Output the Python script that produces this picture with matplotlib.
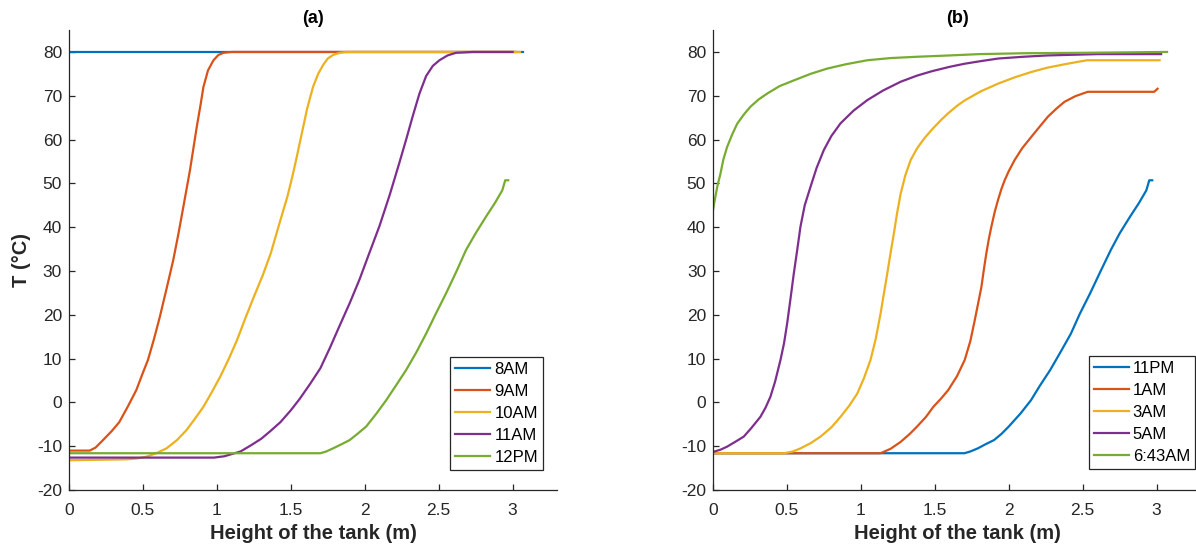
import matplotlib.pyplot as plt

plt.rcParams["font.family"] = ["Liberation Sans", "DejaVu Sans"]
plt.rcParams["axes.unicode_minus"] = False

# MATLAB default line colours
COLORS = ["#0072BD", "#D95319", "#EDB120", "#7E2F8E", "#77AC30"]
AXIS_COLOR = "#262626"

# ---- panel (a): morning charging ----
labels_a = ["8AM", "9AM", "10AM", "11AM", "12PM"]

x_8am = [0.0, 1.0, 2.0, 3.07]
t_8am = [80.0, 80.0, 80.0, 80.0]

x_9am = [0.0, 0.14, 0.18, 0.23, 0.29, 0.34, 0.40, 0.455, 0.50, 0.534, 0.575,
         0.614, 0.66, 0.705, 0.74, 0.773, 0.818, 0.864, 0.89, 0.909, 0.94,
         0.977, 1.01, 1.045, 1.10, 2.0, 3.02]
t_9am = [-11.0, -11.0, -10.3, -8.6, -6.5, -4.5, -0.8, 2.8, 6.8, 9.7, 14.5,
         19.5, 26.0, 32.5, 38.5, 44.6, 53.0, 62.9, 68.0, 72.0, 75.8,
         78.1, 79.3, 79.8, 80.0, 80.0, 80.0]

x_10am = [0.0, 0.20, 0.386, 0.46, 0.523, 0.59, 0.659, 0.73, 0.795, 0.85,
          0.909, 0.965, 1.023, 1.08, 1.136, 1.19, 1.25, 1.31, 1.364, 1.42,
          1.477, 1.51, 1.54, 1.575, 1.61, 1.65, 1.685, 1.718, 1.75, 1.785,
          1.83, 1.875, 2.5, 3.05]
t_10am = [-13.2, -13.1, -13.0, -12.8, -12.4, -11.6, -10.5, -8.6, -6.3, -3.8,
          -1.0, 2.3, 5.9, 9.9, 14.2, 19.0, 24.1, 29.0, 34.0, 40.5,
          47.0, 51.5, 56.0, 61.5, 67.0, 72.0, 75.0, 77.0, 78.5, 79.3,
          79.8, 80.0, 80.0, 80.0]

x_11am = [0.0, 0.98, 1.05, 1.11, 1.16, 1.23, 1.30, 1.36, 1.43, 1.50, 1.56,
          1.63, 1.70, 1.765, 1.83, 1.90, 1.965, 2.03, 2.10, 2.17, 2.235,
          2.28, 2.325, 2.37, 2.415, 2.46, 2.505, 2.56, 2.617, 2.73, 3.0]
t_11am = [-12.6, -12.6, -12.3, -11.7, -11.2, -9.8, -8.3, -6.6, -4.5, -1.8, 0.8,
          4.2, 7.8, 12.5, 17.5, 22.8, 28.1, 34.0, 40.3, 47.5, 54.8,
          60.0, 65.4, 70.5, 74.5, 76.8, 78.1, 79.2, 79.8, 80.0, 80.0]

x_12pm = [0.0, 1.70, 1.74, 1.785, 1.84, 1.898, 1.95, 2.01, 2.08, 2.145, 2.21,
          2.28, 2.35, 2.415, 2.48, 2.55, 2.62, 2.685, 2.75, 2.82, 2.88,
          2.93, 2.95, 2.97]
t_12pm = [-11.6, -11.6, -11.2, -10.5, -9.6, -8.6, -7.2, -5.5, -2.5, 0.5, 3.8,
          7.4, 11.5, 15.7, 20.2, 24.9, 29.9, 34.8, 38.6, 42.4, 45.5,
          48.4, 50.7, 50.7]

# ---- panel (b): night discharging ----
labels_b = ["11PM", "1AM", "3AM", "5AM", "6:43AM"]

x_11pm = [0.0, 1.70, 1.74, 1.79, 1.84, 1.90, 1.95, 2.00, 2.08, 2.15, 2.21,
          2.28, 2.35, 2.42, 2.48, 2.55, 2.62, 2.69, 2.75, 2.82, 2.88,
          2.93, 2.95, 2.97]
t_11pm = [-11.6, -11.6, -11.2, -10.5, -9.6, -8.6, -7.2, -5.5, -2.5, 0.5, 3.8,
          7.4, 11.5, 15.7, 20.2, 24.9, 29.9, 34.8, 38.6, 42.4, 45.5,
          48.4, 50.7, 50.7]

x_1am = [0.0, 1.133, 1.20, 1.269, 1.33, 1.38, 1.44, 1.49, 1.54, 1.59, 1.65,
         1.702, 1.74, 1.77, 1.795, 1.815, 1.83, 1.848, 1.865, 1.882, 1.905,
         1.927, 1.95, 1.972, 2.0, 2.039, 2.09, 2.152, 2.21, 2.264, 2.32,
         2.376, 2.45, 2.534, 2.983, 3.006]
t_1am = [-11.6, -11.6, -10.6, -9.0, -7.2, -5.5, -3.3, -1.0, 0.8, 2.8, 6.0,
         9.7, 14.0, 18.8, 23.0, 26.4, 30.0, 34.0, 37.3, 40.1, 43.5,
         46.2, 48.7, 50.7, 52.8, 55.3, 58.0, 60.6, 63.0, 65.2, 67.0,
         68.6, 69.9, 70.9, 70.9, 71.6]

x_3am = [0.0, 0.48, 0.54, 0.591, 0.66, 0.727, 0.80, 0.862, 0.92, 0.975, 1.02,
         1.065, 1.10, 1.133, 1.156, 1.178, 1.20, 1.223, 1.245, 1.269, 1.30,
         1.336, 1.38, 1.427, 1.478, 1.54, 1.59, 1.65, 1.70, 1.81, 1.93,
         2.04, 2.15, 2.26, 2.38, 2.46, 2.53, 3.02]
t_3am = [-11.6, -11.6, -11.2, -10.5, -9.3, -7.8, -5.7, -3.3, -0.8, 2.0, 5.5,
         9.7, 14.5, 20.3, 25.0, 29.4, 34.0, 38.6, 43.3, 47.7, 51.8,
         55.3, 58.0, 60.2, 62.2, 64.4, 66.0, 67.7, 68.9, 71.0, 72.8,
         74.2, 75.4, 76.4, 77.2, 77.7, 78.1, 78.1]

x_5am = [0.0, 0.05, 0.095, 0.15, 0.208, 0.26, 0.32, 0.355, 0.388, 0.42, 0.456,
         0.48, 0.501, 0.525, 0.546, 0.57, 0.591, 0.62, 0.659, 0.70, 0.749,
         0.80, 0.862, 0.95, 1.043, 1.15, 1.269, 1.38, 1.48, 1.60, 1.70,
         1.81, 1.93, 2.10, 2.26, 2.60, 3.03]
t_5am = [-11.3, -10.8, -10.1, -9.0, -7.8, -5.8, -3.3, -1.2, 1.3, 4.8, 9.7,
         13.5, 18.0, 24.0, 29.4, 35.0, 40.1, 45.0, 49.2, 53.5, 57.6,
         60.8, 63.7, 66.6, 69.0, 71.2, 73.2, 74.6, 75.6, 76.6, 77.3,
         77.9, 78.5, 78.9, 79.2, 79.5, 79.5]

x_643am = [0.0, 0.008, 0.016, 0.03, 0.05, 0.07, 0.095, 0.13, 0.163, 0.21,
           0.253, 0.31, 0.366, 0.45, 0.546, 0.66, 0.772, 0.90, 1.043, 1.20,
           1.38, 1.60, 1.80, 2.10, 2.50, 3.07]
t_643am = [43.9, 45.5, 47.0, 49.5, 52.2, 55.5, 58.3, 61.2, 63.6, 65.8,
           67.5, 69.2, 70.5, 72.2, 73.5, 75.0, 76.2, 77.2, 78.1, 78.6,
           78.9, 79.2, 79.5, 79.7, 79.8, 80.0]

series_a = [(x_8am, t_8am), (x_9am, t_9am), (x_10am, t_10am),
            (x_11am, t_11am), (x_12pm, t_12pm)]
series_b = [(x_11pm, t_11pm), (x_1am, t_1am), (x_3am, t_3am),
            (x_5am, t_5am), (x_643am, t_643am)]

FIG_W, FIG_H = 1196, 548


def style_axes(ax, title):
    ax.set_xlim(0, 3.3)
    ax.set_ylim(-20, 85)
    ax.set_xticks([0, 0.5, 1, 1.5, 2, 2.5, 3])
    ax.set_xticklabels(["0", "0.5", "1", "1.5", "2", "2.5", "3"])
    ax.set_yticks(range(-20, 81, 10))
    for side in ("top", "right"):
        ax.spines[side].set_visible(False)
    for side in ("left", "bottom"):
        ax.spines[side].set_color(AXIS_COLOR)
        ax.spines[side].set_linewidth(0.9)
    ax.tick_params(direction="in", length=4, width=0.9, colors=AXIS_COLOR,
                   labelsize=12.5)
    ax.tick_params(axis="x", pad=9)
    ax.tick_params(axis="y", pad=5)
    ax.set_title(title, fontsize=13, fontweight="bold", pad=5)
    ax.set_xlabel("Height of the tank (m)", fontsize=14.5, fontweight="bold",
                  labelpad=5, color=AXIS_COLOR)


def draw(ax, series, labels, legend_corner):
    for (xs, ts), label, color in zip(series, labels, COLORS):
        ax.plot(xs, ts, color=color, lw=1.6, label=label)
    # legend placed by its lower-right corner, in pixels of the figure
    anchor = (legend_corner[0] / FIG_W, 1 - legend_corner[1] / FIG_H)
    leg = ax.legend(loc="lower right", bbox_to_anchor=anchor,
                    bbox_transform=ax.figure.transFigure,
                    fontsize=12, handlelength=2.1, handletextpad=0.25,
                    borderpad=0.3, labelspacing=0.42, borderaxespad=0.0,
                    fancybox=False, framealpha=1)
    leg.get_frame().set_edgecolor(AXIS_COLOR)
    leg.get_frame().set_linewidth(0.9)


fig = plt.figure(figsize=(11.96, 5.48), dpi=100)
ax_a = fig.add_axes([0.0577, 0.1058, 0.408, 0.8394])
ax_b = fig.add_axes([0.5962, 0.1058, 0.408, 0.8394])

draw(ax_a, series_a, labels_a, (543, 470))
style_axes(ax_a, "(a)")
ax_a.set_ylabel("T (°C)", fontsize=14.5, fontweight="bold", labelpad=4,
                color=AXIS_COLOR)

draw(ax_b, series_b, labels_b, (1195, 469))
style_axes(ax_b, "(b)")

fig.savefig("out.png", dpi=100)
